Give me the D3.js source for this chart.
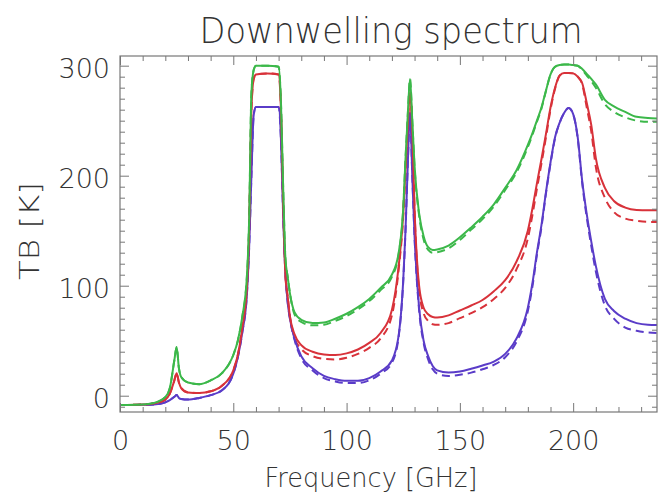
<!DOCTYPE html>
<html>
<head>
<meta charset="utf-8">
<script src="https://cdn.jsdelivr.net/npm/d3@7/dist/d3.min.js"></script>
<style>
  body { margin: 0; background: #fff; }
  svg { display: block; }
  text { font-family: "DejaVu Sans", sans-serif; fill: #333; font-weight: 300; }
</style>
</head>
<body>
<svg id="chart" width="660" height="496"></svg>
<script>
// Frequency grid (GHz)
const freq = [0,10,15,20,22,24,25,26,27,30,
  35,40,45,50,52,54,56,57,58,59,
  60,65,70,71,72,73,74,75,77,80,
  85,90,95,100,105,110,115,120,123,125,
  126,127,128,129,130,132,134,136,138,140,
  145,150,155,160,165,170,175,180,182,184,
  186,188,190,192,194,196,198,200,202,204,
  206,208,210,214,218,223,228,233,237];

// Brightness temperature (K), solid and dashed for each atmosphere
const greenSolid = [-8.5,-8,-6.6,-1.2,7,32.5,44.3,25,17,12,
  10.5,14,20.5,37,50,72,108,160,275,296,
  300,300,299,269,190,125,108,93,76,69,
  66,66.5,70,74.5,80.5,88,98,110,130,170,
  215,255,288,250,209,166,145,135,132.5,133,
  136.5,144,153,162.7,174,189,205,228,238.5,250,
  262,277.5,292,299,300.6,301,301,300.6,300,297,
  292.5,288,283,269,263,258,253.5,252.5,252];
const greenDashed = [-8.5,-8,-6.6,-1.2,7,32.5,44.3,25,17,12,
  10.5,14,20.5,37,50,72,108,160,275,296,
  300,300,299,269,190,125,108,93,74,67,
  64,64.5,68,72.5,78.5,86,96,108,129,170,
  215,255,288,250,208,164,142,132.5,130,130.5,
  134,141.5,151,160.5,172,187,203,226,237,249,
  261,277,292,299,300.6,301,301,300.6,300,296,
  291,286,280,265,258,253,250,249,249];
const redSolid = [-8.5,-8,-7,-3.5,2,14,20.5,12,7,3,
  2.5,4,9,23,37,62,98,150,260,288,
  292,293,292,262,175,110,90,72,56,46,
  40,37.5,37,38.5,42,48,57,78,118,165,
  205,245,276,240,170,100,80,74,71.5,71,
  73,77.5,82,87,95,105,122,150,170,193,
  215,238,262,280,291,293.4,293.4,293,290,284,
  266,246,216,189,177,171,168.8,168.5,168.5];
const redDashed = [-8.5,-8,-7,-3.5,2,14,20.5,12,7,3,
  2.5,4,9,23,37,62,98,150,260,288,
  292,293,292,262,175,110,90,72,53,42.5,
  36,33.5,33,34.5,38,43.5,52,73,115,163,
  205,245,276,240,168,96,75,68,65,64.5,
  66,70.5,75,80.5,88,98,115,143,164,188,
  211,235,260,279,291,293.4,293.4,293,290,283,
  262,240,208,180,167,161,159,158,158];
const blueSolid = [-8.5,-8.3,-8,-6,-4,-1,0.6,-2,-3,-3.5,
  -2,0.5,5,20,35,58,92,135,200,255,
  262.5,262.5,262.5,235,165,112,85,70,52,36,
  25,18,15,13.5,13.5,16,22,32,55,105,
  150,210,257,200,145,80,50,36,27,23,
  21,22,24.5,27.5,31,38,52,80,102,130,
  155,185,212,235,248,257,261.5,256,235,195,
  165,140,118,88,77,70,66,64.5,64.3];
const blueDashed = [-8.5,-8.3,-8,-6,-4,-1,0.6,-2,-3,-3.5,
  -2,0.5,5,20,35,58,92,135,200,255,
  262.5,262.5,262.5,235,165,112,85,70,51,34,
  23,16,13,11.5,11.5,14,20,30,54,104,
  150,210,257,200,144,78,48,33,24,20,
  18,19,21,24,28,35,49,77,99,128,
  153,184,211,234,248,257,261.5,256,234,193,
  162,136,113,82,70,62,59,57.5,57];

// Axis ticks
const xMajor = [0, 50, 100, 150, 200];
const xMinor = d3.range(10, 240, 10).filter(v => v % 50 !== 0);
const yMajor = [0, 100, 200, 300];
const yMinor = d3.range(-10, 310, 10).filter(v => v % 100 !== 0);

const titleText = "Downwelling spectrum";
const xTitle = "Frequency [GHz]";
const yTitle = "TB [K]";

const series = [
  { values: blueDashed,  color: "#5a3cc8", dashed: true },
  { values: redDashed,   color: "#d8323a", dashed: true },
  { values: greenDashed, color: "#3cb84a", dashed: true },
  { values: blueSolid,   color: "#5a3cc8", dashed: false },
  { values: redSolid,    color: "#d8323a", dashed: false },
  { values: greenSolid,  color: "#3cb84a", dashed: false }
];

const L = 120, R = 657, T = 56, B = 412;
const svg = d3.select("#chart");

const x = d3.scaleLinear().domain([0, 237]).range([L, R]);
const y = d3.scaleLinear().domain([-14.8, 308.8]).range([B, T]);

svg.append("defs").append("clipPath").attr("id", "plotClip")
  .append("rect").attr("x", L).attr("y", T).attr("width", R - L).attr("height", B - T);

// Curves
const line = d3.line()
  .x(d => x(d[0]))
  .y(d => y(d[1]))
  .curve(d3.curveMonotoneX);

const plot = svg.append("g").attr("clip-path", "url(#plotClip)");
series.forEach(s => {
  plot.append("path")
    .datum(freq.map((f, i) => [f, s.values[i]]))
    .attr("fill", "none")
    .attr("stroke", s.color)
    .attr("stroke-width", 2)
    .attr("stroke-linejoin", "round")
    .attr("stroke-dasharray", s.dashed ? "8,5" : null)
    .attr("d", line);
});

// Axes: ticks point inward on all four sides
const tickColor = "#777";
function styleAxis(g) {
  g.select(".domain").remove();
  g.selectAll(".tick line").attr("stroke", tickColor);
}
function styleLabels(g) {
  g.selectAll("text")
    .attr("font-size", 27)
    .attr("font-weight", 300)
    .attr("font-family", "DejaVu Sans, sans-serif")
    .attr("fill", "#333");
}

svg.append("g").attr("transform", `translate(0,${B})`)
  .call(d3.axisBottom(x).tickValues(xMajor).tickSize(-9).tickPadding(19).tickFormat(d3.format("d")))
  .call(styleAxis)
  .call(styleLabels);
svg.append("g").attr("transform", `translate(0,${B})`)
  .call(d3.axisBottom(x).tickValues(xMinor).tickSize(-5).tickFormat(""))
  .call(styleAxis);
svg.append("g").attr("transform", `translate(0,${T})`)
  .call(d3.axisTop(x).tickValues(xMajor).tickSize(-9).tickFormat(""))
  .call(styleAxis);
svg.append("g").attr("transform", `translate(0,${T})`)
  .call(d3.axisTop(x).tickValues(xMinor).tickSize(-5).tickFormat(""))
  .call(styleAxis);

svg.append("g").attr("transform", `translate(${L},0)`)
  .call(d3.axisLeft(y).tickValues(yMajor).tickSize(-9).tickPadding(10).tickFormat(d3.format("d")))
  .call(styleAxis)
  .call(styleLabels)
  .call(g => g.selectAll("text").attr("dy", "0.42em"));
svg.append("g").attr("transform", `translate(${L},0)`)
  .call(d3.axisLeft(y).tickValues(yMinor).tickSize(-5).tickFormat(""))
  .call(styleAxis);
svg.append("g").attr("transform", `translate(${R},0)`)
  .call(d3.axisRight(y).tickValues(yMajor).tickSize(-9).tickFormat(""))
  .call(styleAxis);
svg.append("g").attr("transform", `translate(${R},0)`)
  .call(d3.axisRight(y).tickValues(yMinor).tickSize(-5).tickFormat(""))
  .call(styleAxis);

// Frame
svg.append("rect")
  .attr("x", L).attr("y", T).attr("width", R - L).attr("height", B - T)
  .attr("fill", "none").attr("stroke", tickColor).attr("stroke-width", 1.2);

// Titles
svg.append("text")
  .attr("x", 391).attr("y", 43)
  .attr("text-anchor", "middle")
  .attr("font-size", 35)
  .attr("textLength", 383)
  .attr("lengthAdjust", "spacingAndGlyphs")
  .text(titleText);

svg.append("text")
  .attr("x", 371).attr("y", 487)
  .attr("text-anchor", "middle")
  .attr("font-size", 27)
  .attr("textLength", 213)
  .attr("lengthAdjust", "spacingAndGlyphs")
  .text(xTitle);

svg.append("text")
  .attr("transform", "translate(39,231) rotate(-90)")
  .attr("text-anchor", "middle")
  .attr("font-size", 27)
  .attr("textLength", 98)
  .attr("lengthAdjust", "spacingAndGlyphs")
  .text(yTitle);
</script>
</body>
</html>
